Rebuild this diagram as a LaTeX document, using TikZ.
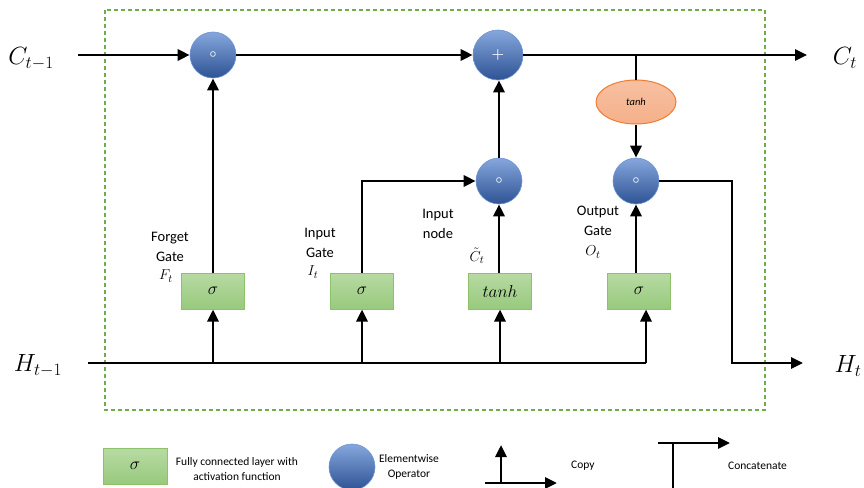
\documentclass[tikz,border=0pt]{standalone}
\usepackage{amsmath}
\usepackage{fontspec}
\setmainfont{Carlito}
\usetikzlibrary{arrows.meta,shapes.geometric}

\definecolor{framegreen}{HTML}{70AD47}
\definecolor{layerTop}{HTML}{B7DBA3}
\definecolor{layerBot}{HTML}{98C97D}
\definecolor{layerEdge}{HTML}{8DC26B}
\definecolor{opTop}{HTML}{86A7DD}
\definecolor{opBot}{HTML}{2E5394}
\definecolor{opEdge}{HTML}{6E93D3}
\definecolor{tanhFill}{HTML}{F5B08A}
\definecolor{tanhEdge}{HTML}{ED7D31}

\begin{document}
\begin{tikzpicture}[x=1pt,y=-1pt,
  wire/.style={line width=2.8pt,draw=black},
  arr/.style={wire,-{Triangle[length=12pt,width=11pt]}},
  op/.style={circle,minimum size=46pt,inner sep=0pt,top color=opTop,bottom color=opBot,
             draw=opEdge,line width=0.6pt,text=white,font=\fontsize{15}{15}\selectfont},
  dotsym/.style={font=\fontsize{13}{13}\selectfont},
  layer/.style={rectangle,minimum width=63pt,minimum height=36pt,inner sep=0pt,
                top color=layerTop,bottom color=layerBot,draw=layerEdge,line width=1pt,
                font=\fontsize{17}{18}\selectfont},
  glabel/.style={align=center,inner sep=0pt,font=\fontsize{14.5}{20}\selectfont},
  gsym/.style={inner sep=0pt,font=\fontsize{15}{16}\selectfont},
  state/.style={inner sep=0pt,font=\fontsize{25}{28}\selectfont},
  legtext/.style={align=center,inner sep=0pt,font=\fontsize{11.5}{14.5}\selectfont},
  frame/.style={draw=framegreen,line width=1.4pt,dash pattern=on 4pt off 3pt}
]
\useasboundingbox (0,0) rectangle (864,487);

% cell boundary
\draw[frame] (105,10) rectangle (765,410);

% external states
\node[state] (cprev) at (31,59) {$C_{t-1}$};
\node[state] (cnext) at (845,58) {$C_t$};
\node[state] (hprev) at (38,366) {$H_{t-1}$};
\node[state] (hnext) at (848,366) {$H_t$};
\coordinate (cstart) at (78,55);
\coordinate (cend) at (807,55);
\coordinate (hstart) at (88,363);
\coordinate (hend) at (803,363);
\coordinate (hbranch) at (646,363);

% elementwise operators
\node[op,dotsym] (fmul) at (213,55) {$\boldsymbol{\circ}$};
\node[op,minimum size=50pt] (add) at (498,55) {$\boldsymbol{+}$};
\node[op,dotsym] (imul) at (499,181) {$\boldsymbol{\circ}$};
\node[op,dotsym] (omul) at (636,181) {$\boldsymbol{\circ}$};
\node[ellipse,minimum width=80pt,minimum height=44pt,inner sep=0pt,
      top color=tanhFill!80!white,bottom color=tanhFill,draw=tanhEdge,line width=1pt,
      font=\itshape\fontsize{10.5}{12}\selectfont] (ctanh) at (636,102) {tanh};

% layers
\node[layer] (fgate) at (213,291) {$\sigma$};
\node[layer] (igate) at (362,291) {$\sigma$};
\node[layer] (cgate) at (500,291) {$tanh$};
\node[layer] (ogate) at (639,291) {$\sigma$};

% gate labels
\node[glabel] (flab) at (170,247) {Forget\\Gate};
\node[gsym] (fsym) at (166,276) {$F_t$};
\node[glabel] (ilab) at (320,243) {Input\\Gate};
\node[gsym] (isym) at (313,272) {$I_t$};
\node[glabel] (nlab) at (438,224) {Input\\node};
\node[gsym] (nsym) at (477,256) {$\tilde{C}_t$};
\node[glabel] (olab) at (598,221) {Output\\Gate};
\node[gsym] (osym) at (593,252) {$O_t$};

% cell state path
\draw[arr] (cstart) -- (fmul);
\draw[arr] (fmul) -- (add);
\draw[arr] (add) -- (cend);
\draw[wire] (ctanh.north |- add) -- (ctanh.north);
\draw[arr] (ctanh) -- (omul);

% gate outputs
\draw[arr] (fgate) -- (fmul);
\draw[arr] (igate.north) |- (imul);
\draw[arr] (cgate.north -| imul) -- (imul);
\draw[arr] (imul) -- (imul |- add.south);
\draw[arr] (ogate.north -| omul) -- (omul);

% hidden state input
\draw[wire] (hstart) -- (hbranch);
\draw[arr] (fgate.south |- hstart) -- (fgate.south);
\draw[arr] (igate.south |- hstart) -- (igate.south);
\draw[arr] (cgate.south |- hstart) -- (cgate.south);
\draw[arr] (hbranch) -- (hbranch |- ogate.south);

% hidden state output
\draw[arr] (omul.east) -- (732,181) -- (732,363) -- (hend);

% legend
\node[layer,minimum width=64pt] (lbox) at (135,466) {$\sigma$};
\node[legtext] (ltext) at (237,469) {Fully connected layer with\\activation function};
\node[op] (lcirc) at (352,467) {};
\node[legtext] (ctext) at (409,467) {Elementwise\\Operator};
\coordinate (cpyc) at (501,483);
\draw[arr] (cpyc) -- (501,445);
\draw[arr] (485,483) -- (557,483);
\node[legtext,anchor=west] (cpylab) at (571,466) {Copy};
\coordinate (catc) at (673,443);
\draw[arr] (658,443) -- (730,443);
\draw[wire] (catc) -- (673,492);
\node[legtext,anchor=west] (catlab) at (728,466) {Concatenate};
\end{tikzpicture}
\end{document}
